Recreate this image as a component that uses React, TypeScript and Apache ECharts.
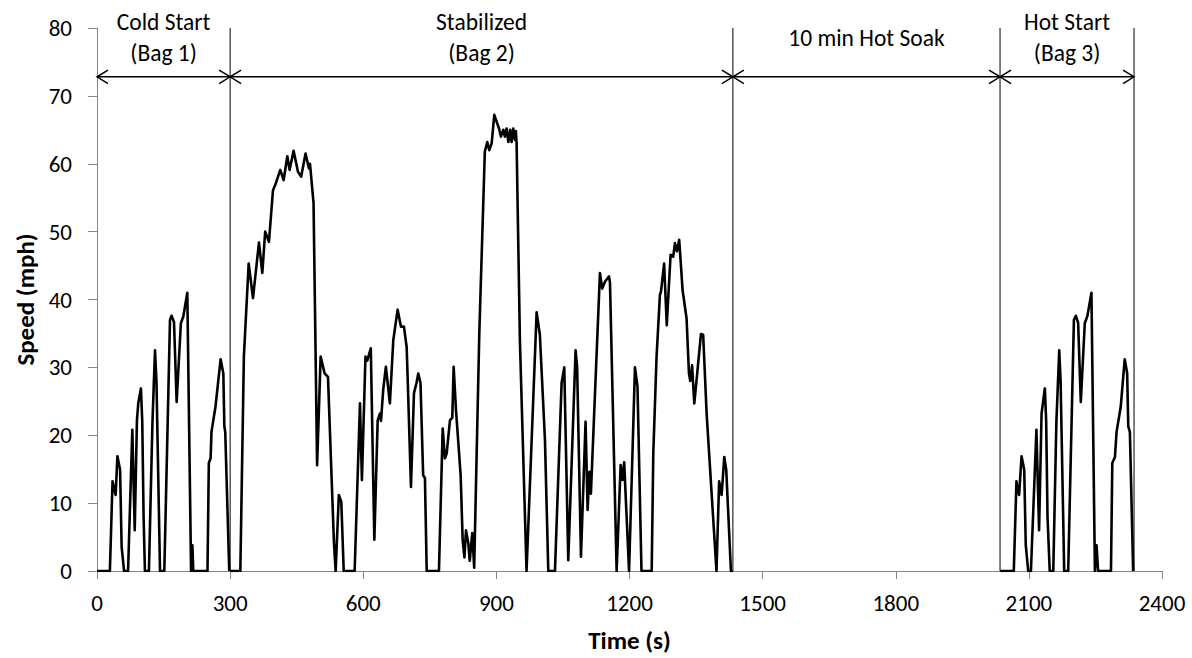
import React, { useEffect, useRef } from "react";
import * as echarts from "echarts";

// Cold start (Bag 1)
const bag1Time = [0, 29, 35, 42, 46, 52, 55.5, 61, 70, 79.6, 85, 90, 93, 99, 102, 105, 108, 117, 125, 130.7, 134, 142, 151.7, 164.5, 168, 173.5, 179.5, 189, 194.5, 203.5, 212, 215, 217, 249, 252, 256, 258, 267, 278.6, 284.7, 287, 289, 298];
const bag1Speed = [0, 0, 13.2, 11.2, 16.9, 14.9, 3.6, 0, 0, 20.8, 6.0, 22.2, 24.7, 26.9, 22, 8, 0, 0, 22, 32.5, 28, 0, 0, 37.0, 37.6, 36.7, 24.9, 36.5, 37.5, 41.0, 0, 3.8, 0, 0, 15.9, 16.6, 20.5, 24.2, 31.2, 29.1, 21.3, 20.5, 0];

// Stabilized (Bag 2)
const bag2Time = [300, 323, 331, 341.8, 351.5, 365, 372.5, 379, 387.5, 396.6, 401.8, 413, 420.6, 428.9, 434, 443, 453, 460, 470, 477.7, 480, 488, 496, 504, 513, 520.5, 534, 537.8, 545, 550.5, 556, 580.6, 592.6, 597, 605, 609, 617, 625, 632.5, 637.7, 640, 645, 651, 660, 667.7, 677.5, 685, 691.7, 697.8, 700, 707.5, 714.3, 720, 724, 729, 735, 739, 743, 770.6, 779, 784, 788, 795.4, 800.7, 803.7, 809, 819.5, 824, 828, 831.5, 836.7, 840, 845.7, 850, 861.5, 874, 879.5, 884, 889.4, 895.3, 900.5, 906, 910.3, 915.6, 919.3, 923, 927, 931, 934.3, 938, 942, 944, 945.6, 949, 953, 968, 990.7, 998, 1009.5, 1017, 1032, 1047, 1053, 1062, 1078.5, 1082, 1090.6, 1101, 1105.6, 1109.5, 1113, 1133.4, 1138.6, 1144.7, 1153.7, 1156, 1171, 1180, 1184, 1188, 1199, 1212.3, 1218, 1227, 1250, 1253.6, 1261, 1268.6, 1271, 1278, 1284, 1292.6, 1298.5, 1302.4, 1307, 1312, 1319.6, 1328.6, 1334, 1337, 1341, 1346, 1352.6, 1361, 1366, 1373.8, 1396, 1402, 1407.6, 1413.6, 1418, 1428.6, 1433];
const bag2Speed = [0, 0, 31.6, 45.3, 40.2, 48.4, 43.9, 50.0, 48.5, 56.1, 56.9, 59.1, 57.6, 61.1, 59.1, 61.9, 58.8, 58.1, 61.5, 59.3, 60.0, 54.2, 15.6, 31.6, 29.1, 28.6, 4.1, 0, 11.2, 10.2, 0, 0, 24.7, 13.4, 31.6, 31.0, 32.8, 4.6, 22.2, 23.2, 22.1, 26.7, 30.1, 24.7, 34.0, 38.5, 36.0, 36.0, 33.0, 28.6, 12.4, 26.2, 27.7, 29.1, 27.7, 14.1, 13.7, 0, 0, 21.0, 16.6, 17.3, 22.2, 22.6, 30.1, 23.7, 14.1, 4.6, 2.0, 6.0, 4.1, 1.5, 5.6, 0.5, 35.0, 61.8, 63.2, 62.0, 63.0, 67.2, 66.2, 65.2, 64.0, 65.0, 64.0, 65.2, 63.2, 65.0, 63.2, 65.2, 63.5, 64.8, 63.0, 49.7, 34.0, 0, 38.1, 34.8, 19.3, 0, 0, 27.7, 30.0, 1.6, 32.5, 30.0, 2.1, 22.0, 9.0, 14.6, 11.4, 43.9, 41.6, 42.6, 43.4, 42.5, 0, 15.6, 13.4, 16.0, 0, 30.0, 27.2, 0, 0, 17.3, 31.6, 40.7, 41.2, 45.3, 36.2, 46.6, 46.3, 48.3, 47.1, 48.8, 41.4, 37.2, 29.1, 28.0, 30.3, 24.7, 29.1, 34.9, 34.8, 23.2, 0, 13.2, 11.2, 16.8, 14.9, 0, 0];

// Hot start (Bag 3)
const bag3Time = [2035, 2066, 2072, 2078, 2083.5, 2089.5, 2093, 2098.5, 2104.6, 2117, 2123, 2128.6, 2136, 2139, 2142, 2147, 2155, 2162, 2168.4, 2171.5, 2179.6, 2188.6, 2201.5, 2206, 2211, 2217, 2226, 2232, 2241, 2248.8, 2252.6, 2256, 2285, 2288, 2294, 2297.6, 2307, 2316, 2321.5, 2324, 2327.6, 2335];
const bag3Speed = [0, 0, 13.2, 11.2, 16.9, 14.9, 3.8, 0, 0, 20.8, 6.0, 23.2, 26.9, 22, 8, 0, 0, 22, 32.5, 28, 0, 0, 37.0, 37.6, 36.6, 24.9, 36.5, 37.6, 41.0, 0, 3.8, 0, 0, 15.9, 16.8, 20.5, 24.2, 31.2, 29.1, 21.3, 20.5, 0];

// Phases
const phaseBounds = [0, 300, 1433, 2035, 2337];
const phaseLabels = ["Cold Start\n(Bag 1)", "Stabilized\n(Bag 2)", "10 min Hot Soak", "Hot Start\n(Bag 3)"];
const arrowLevel = 72.8;
const labelLevel = 78.6;
const dividerTop = 80;

const FONT = "Carlito, Calibri, Lato, sans-serif";

export default function App() {
  const ref = useRef<HTMLDivElement>(null);
  useEffect(() => {
    const chart = echarts.init(ref.current as HTMLDivElement, null, { renderer: "svg" });
    const zip = (t: number[], v: number[]) => t.map((x, i) => [x, v[i]]);
    const traces = [
      [bag1Time, bag1Speed],
      [bag2Time, bag2Speed],
      [bag3Time, bag3Speed],
    ].map(([t, v]) => ({
      type: "line",
      data: zip(t, v),
      symbol: "none",
      showSymbol: false,
      silent: true,
      lineStyle: { color: "#000", width: 2.6, join: "round" },
      z: 3,
    }));
    const phaseData = phaseLabels.map((_, i) => [phaseBounds[i], phaseBounds[i + 1], arrowLevel]);
    const option: any = {
      animation: false,
      backgroundColor: "#fff",
      grid: { left: 97, right: 30, top: 28, bottom: 87 },
      xAxis: {
        type: "value",
        min: 0,
        max: 2400,
        interval: 300,
        name: "Time (s)",
        nameLocation: "middle",
        nameGap: 57,
        nameTextStyle: { color: "#000", fontSize: 25, fontWeight: "bold", fontFamily: FONT },
        axisLine: { show: true, lineStyle: { color: "#868686", width: 1 } },
        axisTick: { show: true, length: 8, lineStyle: { color: "#868686" } },
        splitLine: { show: false },
        axisLabel: { color: "#000", fontSize: 23, fontFamily: FONT, margin: 20, formatter: (v: number) => String(v) },
      },
      yAxis: {
        type: "value",
        min: 0,
        max: 80,
        interval: 10,
        name: "Speed (mph)",
        nameLocation: "middle",
        nameGap: 52,
        nameTextStyle: { color: "#000", fontSize: 25, fontWeight: "bold", fontFamily: FONT },
        axisLine: { show: true, lineStyle: { color: "#868686", width: 1 } },
        axisTick: { show: true, length: 9, lineStyle: { color: "#868686" } },
        splitLine: { show: false },
        axisLabel: { color: "#000", fontSize: 23, fontFamily: FONT, margin: 25 },
      },
      series: [
        ...traces,
        {
          type: "custom",
          data: phaseData,
          encode: { x: [0, 1], y: 2 },
          clip: false,
          silent: true,
          z: 4,
          renderItem: (params: any, api: any) => {
            const i = params.dataIndex;
            const s = api.value(0);
            const e = api.value(1);
            const y = api.value(2);
            const p0 = api.coord([s, y]);
            const p1 = api.coord([e, y]);
            const vb = api.coord([e, 0]);
            const vt = api.coord([e, dividerTop]);
            const tc = api.coord([(s + e) / 2, labelLevel]);
            const ah = 11;
            const aw = 6.7;
            const st = { stroke: "#000", lineWidth: 1.5, fill: "none" };
            return {
              type: "group",
              children: [
                { type: "line", shape: { x1: p0[0], y1: p0[1], x2: p1[0], y2: p1[1] }, style: { stroke: "#000", lineWidth: 1.5 } },
                { type: "polyline", shape: { points: [[p0[0] + ah, p0[1] - aw], [p0[0], p0[1]], [p0[0] + ah, p0[1] + aw]] }, style: st },
                { type: "polyline", shape: { points: [[p1[0] - ah, p1[1] - aw], [p1[0], p1[1]], [p1[0] - ah, p1[1] + aw]] }, style: st },
                { type: "line", shape: { x1: vb[0], y1: vb[1], x2: vt[0], y2: vt[1] }, style: { stroke: "#000", lineWidth: 1 } },
                {
                  type: "text",
                  x: tc[0],
                  y: tc[1],
                  style: {
                    text: phaseLabels[i],
                    fill: "#000",
                    fontSize: 23.5,
                    fontFamily: FONT,
                    align: "center",
                    verticalAlign: "middle",
                    lineHeight: 31,
                  },
                },
              ],
            };
          },
        },
      ],
    };
    chart.setOption(option);
    return () => chart.dispose();
  }, []);
  return <div ref={ref} style={{ position: "absolute", left: 0, top: 0, width: 1192, height: 658, background: "#fff" }} />;
}
